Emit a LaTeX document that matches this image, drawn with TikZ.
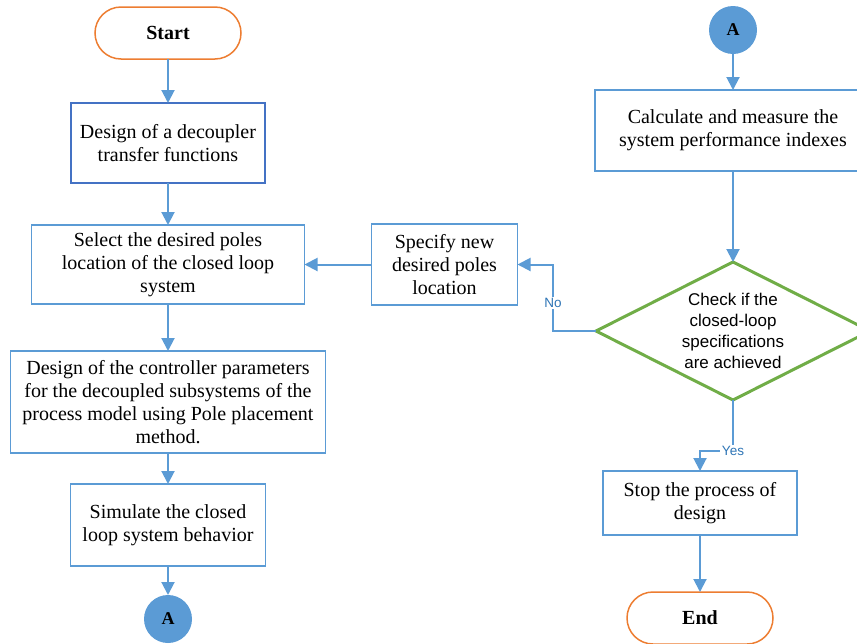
\documentclass[tikz,border=0pt]{standalone}
\usepackage{fontspec}
\setmainfont{Liberation Serif}
\setsansfont{Liberation Sans}
\usetikzlibrary{arrows.meta, positioning, shapes.geometric}

\definecolor{termorange}{HTML}{ED7D31}
\definecolor{darkblue}{HTML}{4472C4}
\definecolor{boxblue}{HTML}{5B9BD5}
\definecolor{checkgreen}{HTML}{70AD47}
\definecolor{lblblue}{HTML}{2E75B6}

\begin{document}
\begin{tikzpicture}[
            > = {Triangle[width=13pt,length=13pt]}, % arrow head style
            x = 1pt, y = 1pt,
            every node/.style = {outer sep = 0pt},
            line width = 1.5pt % line style
        ]

        \tikzstyle{box}=[
            draw = boxblue,
            rectangle,
            align = center,
            inner sep = 2pt,
            font = {\fontsize{20}{23}\selectfont}
        ]
        \tikzstyle{term}=[
            draw = termorange,
            rounded corners = 26pt,
            minimum width = 146pt,
            minimum height = 52pt,
            font = {\bfseries\fontsize{20}{23}\selectfont}
        ]
        \tikzstyle{conn}=[
            circle,
            fill = boxblue,
            minimum size = 48pt,
            inner sep = 0pt,
            font = {\bfseries\fontsize{18}{20}\selectfont}
        ]
        \tikzstyle{check}=[
            diamond,
            draw = checkgreen,
            line width = 3pt,
            aspect = 2,
            minimum width = 274pt,
            minimum height = 138pt,
            inner sep = 0pt,
            align = center,
            font = {\sffamily\fontsize{17}{21}\selectfont}
        ]
        \tikzstyle{lbl}=[
            fill = white,
            inner sep = 1.5pt,
            text = lblblue,
            font = {\sffamily\fontsize{13.5}{15}\selectfont}
        ]
        \tikzstyle{arr}=[->, draw = boxblue, line width = 2pt]

        \useasboundingbox (0,0) rectangle (857,-643);

        % left column
        \node[term] (start) at (168,-33) {Start};
        \node[box, draw = darkblue, minimum width = 194pt, minimum height = 80pt] (decoupler) [below=44pt of start] {Design of a decoupler\\transfer functions};
        \node[box, minimum width = 273pt, minimum height = 79pt] (poles) [below=42pt of decoupler] {Select the desired poles\\location of the closed loop\\system};
        \node[box, minimum width = 315pt, minimum height = 102pt] (ctrl) [below=47pt of poles] {Design of the controller parameters\\for the decoupled subsystems of the\\process model using Pole placement\\method.};
        \node[box, minimum width = 195pt, minimum height = 82pt] (sim) [below=31pt of ctrl] {Simulate the closed\\loop system behavior};
        \node[conn] (a1) [below=29pt of sim] {A};
        \node[box, minimum width = 146pt, minimum height = 81pt] (newpoles) [right=67pt of poles] {Specify new\\desired poles\\location};

        % right column
        \node[conn] (a2) at (733,-30) {A};
        \node[box, minimum width = 276pt, minimum height = 81pt] (perf) [below=36pt of a2] {Calculate and measure the\\system performance indexes};
        \node[check] (check) [below=91pt of perf] {Check if the\\closed-loop\\specifications\\are achieved};
        \node[box, minimum width = 194pt, minimum height = 64pt] (stop) [below=71pt of check, xshift=-33pt] {Stop the process of\\design};
        \node[term] (end) [below=57pt of stop] {End};

        \draw[arr] (start) -- (decoupler);
        \draw[arr] (decoupler) -- (poles);
        \draw[arr] (poles) -- (ctrl);
        \draw[arr] (ctrl) -- (sim);
        \draw[arr] (sim) -- (a1);
        \draw[arr] (a2) -- (perf);
        \draw[arr] (perf) -- (check);
        \draw[arr] (check.west) -- ++(-43,0) |- node[lbl, pos=0.21] {No} (newpoles.east);
        \draw[arr] (newpoles) -- (poles);
        \draw[arr] (check.south) -- ++(0,-51) node[lbl] {Yes} -| (stop.north);
        \draw[arr] (stop) -- (end);

  \end{tikzpicture}
\end{document}
